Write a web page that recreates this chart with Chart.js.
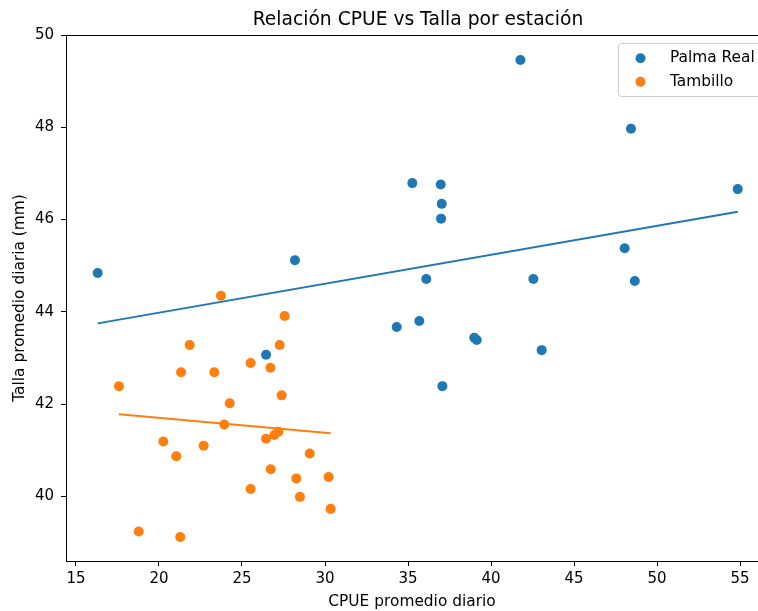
<!DOCTYPE html>
<html>
<head>
<meta charset="utf-8">
<script src="https://cdn.jsdelivr.net/npm/chart.js@4"></script>
<style>
  html, body { margin: 0; padding: 0; background: #fff; }
  #wrap { width: 758px; height: 611px; }
</style>
</head>
<body>
<div id="wrap"><canvas id="cpueChart" width="758" height="611"></canvas></div>
<script>
// values
const palmaX = [16.31, 28.19, 26.45, 34.32, 35.68, 35.26, 36.97, 37.03, 36.99, 36.10,
                37.07, 38.99, 39.14, 41.77, 42.55, 43.05, 48.43, 48.05, 48.66, 54.86];
const palmaY = [44.84, 45.12, 43.07, 43.67, 43.80, 46.79, 46.76, 46.34, 46.02, 44.71,
                42.39, 43.44, 43.39, 49.46, 44.71, 43.17, 47.97, 45.38, 44.67, 46.66];

const tambX = [23.73, 27.57, 21.85, 27.27, 25.52, 26.71, 21.33, 23.33, 17.59, 27.39,
               24.26, 23.93, 26.45, 26.95, 27.19, 20.26, 22.69, 21.04, 29.08, 26.73,
               28.27, 30.22, 25.52, 28.49, 30.34, 18.78, 21.28];
const tambY = [44.35, 43.91, 43.28, 43.28, 42.89, 42.79, 42.69, 42.69, 42.39, 42.19,
               42.02, 41.56, 41.25, 41.33, 41.40, 41.19, 41.10, 40.87, 40.93, 40.59,
               40.39, 40.42, 40.16, 39.99, 39.73, 39.24, 39.12];

// trend line end points
const palmaFitX = [16.31, 54.86];
const palmaFitY = [43.75, 46.17];
const tambFitX = [17.59, 30.34];
const tambFitY = [41.78, 41.37];

const xTicks = [15, 20, 25, 30, 35, 40, 45, 50, 55];
const yTicks = [40, 42, 44, 46, 48, 50];

const seriesNames = ['Palma Real', 'Tambillo'];
const blue = '#1f77b4';
const orange = '#ff7f0e';
const FONT = "'DejaVu Sans', sans-serif";

const pts = (xs, ys) => xs.map((x, i) => ({ x: x, y: ys[i] }));

// title, frame and in-plot legend like matplotlib
const extras = {
  id: 'extras',
  afterDraw(chart) {
    const { ctx, chartArea: a } = chart;
    ctx.save();
    // spines
    ctx.strokeStyle = '#000';
    ctx.lineWidth = 1;
    ctx.strokeRect(a.left + 0.5, a.top + 0.5, a.right - a.left, a.bottom - a.top);

    // title
    ctx.fillStyle = '#000';
    ctx.font = '18.7px ' + FONT;
    ctx.textAlign = 'center';
    ctx.textBaseline = 'middle';
    ctx.fillText('Relación CPUE vs Talla por estación', 418, 20);

    // legend
    const lx = 618, ly = 43, lw = 150, lh = 53;
    ctx.fillStyle = 'rgba(255,255,255,0.85)';
    ctx.strokeStyle = '#cccccc';
    ctx.beginPath();
    ctx.roundRect(lx + 0.5, ly + 0.5, lw, lh, 3);
    ctx.fill();
    ctx.stroke();
    const cols = [blue, orange];
    ctx.font = '15.4px ' + FONT;
    ctx.textAlign = 'left';
    seriesNames.forEach((name, i) => {
      const cy = 58.3 + i * 23.4;
      ctx.fillStyle = cols[i];
      ctx.beginPath();
      ctx.arc(640.5, cy, 5, 0, Math.PI * 2);
      ctx.fill();
      ctx.fillStyle = '#000';
      ctx.fillText(name, 670, cy);
    });
    ctx.restore();
  }
};

new Chart(document.getElementById('cpueChart'), {
  type: 'scatter',
  data: {
    datasets: [
      {
        label: seriesNames[0],
        data: pts(palmaX, palmaY),
        backgroundColor: blue,
        borderWidth: 0,
        pointRadius: 5,
        order: 4
      },
      {
        label: seriesNames[0] + ' ajuste',
        data: pts(palmaFitX, palmaFitY),
        showLine: true,
        borderColor: blue,
        borderWidth: 2,
        pointRadius: 0,
        order: 3
      },
      {
        label: seriesNames[1],
        data: pts(tambX, tambY),
        backgroundColor: orange,
        borderWidth: 0,
        pointRadius: 5,
        order: 2
      },
      {
        label: seriesNames[1] + ' ajuste',
        data: pts(tambFitX, tambFitY),
        showLine: true,
        borderColor: orange,
        borderWidth: 2,
        pointRadius: 0,
        order: 1
      }
    ]
  },
  options: {
    responsive: false,
    animation: false,
    layout: { autoPadding: false, padding: { left: 0, right: 0, top: 35, bottom: 0 } },
    plugins: {
      legend: { display: false },
      tooltip: { enabled: false },
      title: { display: false }
    },
    scales: {
      x: {
        type: 'linear',
        min: 14.4,
        max: 56.08,
        afterBuildTicks: (s) => { s.ticks = xTicks.map(v => ({ value: v })); },
        afterFit: (s) => { s.height = 50; s.paddingLeft = 0; s.paddingRight = 0; },
        grid: { drawOnChartArea: false, drawTicks: true, tickLength: 5, color: '#000' },
        border: { display: true, color: '#000' },
        ticks: { color: '#000', font: { family: FONT, size: 15 }, padding: 4, maxRotation: 0 },
        title: {
          display: true,
          text: 'CPUE promedio diario',
          color: '#000',
          font: { family: FONT, size: 15.4 },
          padding: { top: 0, bottom: 0 }
        }
      },
      y: {
        type: 'linear',
        min: 38.6,
        max: 50,
        afterBuildTicks: (s) => { s.ticks = yTicks.map(v => ({ value: v })); },
        afterFit: (s) => { s.width = 66; s.paddingTop = 0; s.paddingBottom = 0; },
        grid: { drawOnChartArea: false, drawTicks: true, tickLength: 5, color: '#000' },
        border: { display: true, color: '#000' },
        ticks: { color: '#000', font: { family: FONT, size: 15 }, padding: 7 },
        title: {
          display: true,
          text: 'Talla promedio diaria (mm)',
          color: '#000',
          font: { family: FONT, size: 15.4 },
          padding: { top: 10.8, bottom: 0 }
        }
      }
    }
  },
  plugins: [extras]
});
</script>
</body>
</html>
